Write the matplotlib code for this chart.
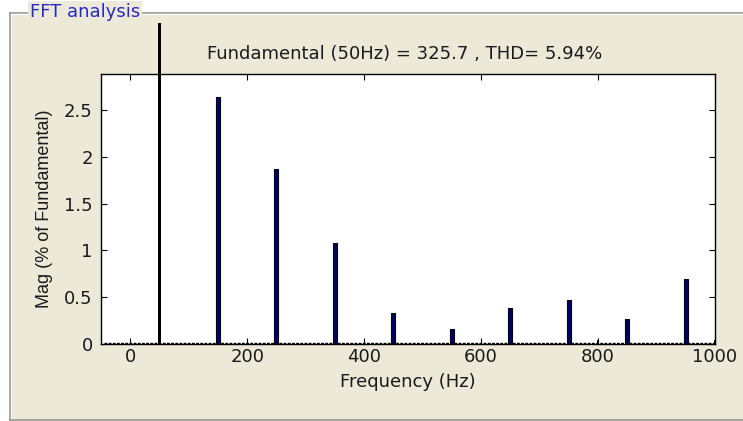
import matplotlib.pyplot as plt
from matplotlib.patches import Rectangle

# harmonic spectrum, % of fundamental
fund_freq = [50]
fund_mag = [100.0]
harm_freq = [150, 250, 350, 450, 550, 650, 750, 850, 950]
harm_mag = [2.64, 1.87, 1.08, 0.33, 0.16, 0.38, 0.47, 0.27, 0.69]
even_freq = [0, 200, 400, 600, 800, 1000]
even_mag = [0.04, 0.04, 0.04, 0.04, 0.04, 0.04]
floor_freq = [-45, 1000]
floor_mag = [0.015, 0.015]
xticks = [0, 200, 400, 600, 800, 1000]
yticks = [0, 0.5, 1, 1.5, 2, 2.5]

W, H = 743, 421
fig = plt.figure(figsize=(W / 100, H / 100), dpi=100)
fig.patch.set_facecolor('white')
plt.rcParams['font.family'] = ['DejaVu Sans']

panel_bg = '#ECE9D8'
txt = '#1a1a1a'
fs = 13

def fx(px):
    return px / W

def fy(py):
    return 1 - py / H

# panel with etched border
fig.patches.append(Rectangle((fx(10), fy(421)), fx(740), fy(14) - fy(421),
                             transform=fig.transFigure, facecolor=panel_bg,
                             edgecolor='none', zorder=-10))
fig.add_artist(plt.Line2D([fx(9.5), 1], [fy(13), fy(13)], transform=fig.transFigure,
                          color='#9A9A9A', lw=1.2, zorder=-5))
fig.add_artist(plt.Line2D([fx(10.5), 1], [fy(14.3), fy(14.3)], transform=fig.transFigure,
                          color='white', lw=0.8, zorder=-5))
fig.add_artist(plt.Line2D([fx(9.5), fx(9.5)], [fy(13), fy(420)], transform=fig.transFigure,
                          color='#9A9A9A', lw=1.2, zorder=-5))
fig.add_artist(plt.Line2D([fx(10.8), fx(10.8)], [fy(14), fy(419)], transform=fig.transFigure,
                          color='white', lw=0.8, zorder=-5))
fig.add_artist(plt.Line2D([fx(9.5), 1], [fy(420), fy(420)], transform=fig.transFigure,
                          color='#9A9A9A', lw=1.2, zorder=-5))

fig.text(fx(30), fy(12), 'FFT analysis', color='#2828C8', fontsize=fs,
         va='center', ha='left', zorder=-1,
         bbox=dict(facecolor=panel_bg, edgecolor='none', pad=1.5))

ax = fig.add_axes([fx(101), fy(344), fx(715) - fx(101), fy(74) - fy(344)])
ax.set_xlim(-50, 1000)
ax.set_ylim(0, 2.885)

ax.plot(floor_freq, floor_mag, color='black', lw=1, linestyle=(0, (2, 1)))
ax.bar(even_freq, even_mag, width=2, color='black', linewidth=0)
ax.bar(harm_freq, harm_mag, width=7, color='#000070', edgecolor='black', linewidth=0.8)

fund = ax.bar(fund_freq, fund_mag, width=4, color='black', linewidth=0)
clip = Rectangle((0, fy(344)), 1, fy(23) - fy(344), transform=fig.transFigure)
for b in fund:
    b.set_clip_on(True)
    b.set_clip_path(clip)

ax.set_xticks(xticks)
ax.set_xticklabels([str(t) for t in xticks])
ax.set_yticks(yticks)
ax.set_yticklabels(['0', '0.5', '1', '1.5', '2', '2.5'])
ax.tick_params(direction='in', top=True, right=True, length=4, width=0.8,
               labelsize=fs, colors='black', labelcolor=txt)
ax.tick_params(axis='x', pad=3)
ax.tick_params(axis='y', pad=6)
for s in ax.spines.values():
    s.set_linewidth(1)

ax.set_xlabel('Frequency (Hz)', fontsize=fs, labelpad=5, color=txt)
ax.set_ylabel('Mag (% of Fundamental)', fontsize=fs, labelpad=8, color=txt,
              family=['Liberation Sans Narrow', 'Liberation Sans'])

fig.text(fx(405), fy(54), 'Fundamental (50Hz) = 325.7 , THD= 5.94%',
         fontsize=fs, ha='center', va='center', color=txt)

fig.savefig('out.png', dpi=100)
